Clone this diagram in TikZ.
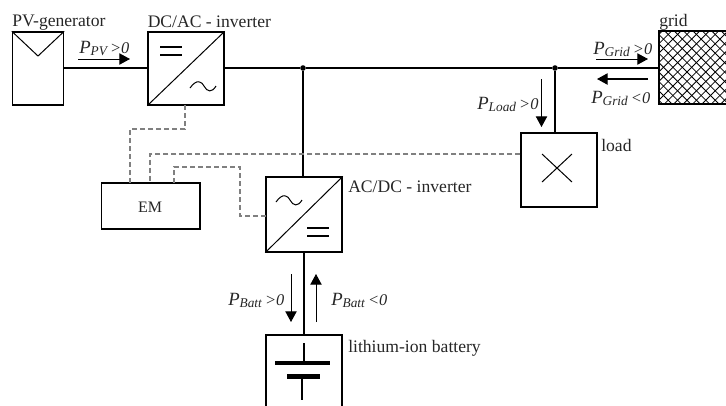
\documentclass[tikz,border=0pt]{standalone}
\usepackage{fontspec}
\setmainfont{Liberation Serif}
\usetikzlibrary{arrows.meta,calc}
\newcommand{\plab}[2]{\textit{\fontsize{14}{14}\selectfont P\raisebox{-2.2pt}{\fontsize{10}{10}\selectfont #1}\,{\fontsize{12.3}{14}\selectfont #2}}}
\newcommand{\tildeat}[2]{\draw[thin line] (#1,#2) .. controls (#1+7,#2-10) and (#1+12,#2-6) .. (#1+14,#2-2) .. controls (#1+17,#2+4) and (#1+22,#2+5) .. (#1+26,#2-2);}
\tikzset{
  x=0.75pt,y=-0.75pt,
  box/.style={draw=black,line width=1.1pt,fill=white,inner sep=0pt,minimum width=57pt},
  wire/.style={line width=1.1pt},
  thin line/.style={line width=0.75pt},
  ctrl/.style={draw=gray,line width=0.9pt,dash pattern=on 3.8pt off 2.2pt},
  flow/.style={line width=0.7pt,-{Triangle[length=8pt,width=8.5pt]}},
  dotj/.style={circle,fill=black,inner sep=0pt,minimum size=4.2pt},
  lbl/.style={inner sep=0pt,text=black!85,font=\fontsize{13.2}{15}\selectfont},
  plbl/.style={inner sep=0pt,text=black!85},
}
\begin{document}
\begin{tikzpicture}
\useasboundingbox (0,0) rectangle (726,405);
\clip (0,0) rectangle (726,405);
% boxes
\node[box,minimum width=38.2pt,minimum height=54.7pt] (pv) at (38,68.5) {};
\node[box,minimum height=54.7pt] (dcac) at (186,68.5) {};
\node[box,minimum width=73.8pt,minimum height=34.5pt] (em) at (150.7,206) {};
\node[box,minimum height=55.5pt] (load) at (559,170) {};
\node[box,minimum height=56pt] (acdc) at (304,214.5) {};
\node[box,minimum height=60pt] (batt) at (304,375) {};
\node[box,minimum width=60pt,minimum height=54.7pt] (grid) at (699,67.5) {};
\begin{scope}
\clip (grid.south west) rectangle (grid.north east);
\foreach \i in {-20,...,40} {
  \draw[line width=0.62pt] (640+\i*9.4,25) -- +(90,90);
  \draw[line width=0.62pt] (640+\i*9.4,25) -- +(-90,90);
}
\end{scope}
\draw[line width=1.1pt] (grid.south west) rectangle (grid.north east);
% junctions
\node[dotj] (j1) at (303,68) {};
\node[dotj] (j2) at (555,68) {};
% wires
\draw[wire] (pv.east |- 0,68) -- (dcac.west |- 0,68);
\draw[wire] (dcac.east |- 0,68) -- (j1) -- (j2) -- (grid.west |- 0,68);
\draw[wire] (j1) -- (j1 |- acdc.north);
\draw[wire] (j2) -- (j2 |- load.north);
\draw[wire] (acdc.south) -- (batt.north);
% control lines
\coordinate (c1) at (185,105);
\coordinate (c2) at (130,183);
\draw[ctrl] (c1) -- (185,129) -- (130,129) -- (c2);
\coordinate (c3) at (150,183);
\draw[ctrl] (load.west |- 0,154) -- (150,154) -- (c3);
\coordinate (c4) at (174,183);
\coordinate (c5) at (266,216);
\draw[ctrl] (c4) -- (174,167) -- (240,167) -- (240,216) -- (c5);
% symbols
\draw[thin line] (pv.north west) -- (38,56) -- (pv.north east);
\draw[thin line] (dcac.south west) -- (dcac.north east);
\draw[thin line] (acdc.south west) -- (acdc.north east);
\draw[wire,line width=1pt] (160,47) -- (182,47) (160,55) -- (182,55);
\tildeat{190}{88}
\tildeat{276}{202}
\draw[wire,line width=1pt] (307,228) -- (329,228) (307,236) -- (329,236);
\draw[thin line] (542,154) -- (572,182) (572,154) -- (542,182);
\draw[line width=0.9pt] (304,343) -- (304,363);
\draw[line width=2.7pt] (275,363) -- (330,363);
\draw[line width=3.8pt] (287,376.5) -- (320,376.5);
\draw[line width=0.9pt] (302,376) -- (302,400);
% flows
\coordinate (f1a) at (78,59); \coordinate (f1b) at (130,59);
\draw[flow] (f1a) -- (f1b);
\coordinate (f2a) at (596,59); \coordinate (f2b) at (648,59);
\draw[flow] (f2a) -- (f2b);
\coordinate (f3a) at (648,79); \coordinate (f3b) at (597,79);
\draw[flow,line width=1pt] (f3a) -- (f3b);
\coordinate (f4a) at (541.5,79); \coordinate (f4b) at (541.5,127);
\draw[flow] (f4a) -- (f4b);
\coordinate (f5a) at (291,274); \coordinate (f5b) at (291,322);
\draw[flow] (f5a) -- (f5b);
\coordinate (f6a) at (316,322); \coordinate (f6b) at (316,274);
\draw[flow] (f6a) -- (f6b);
% labels
\node[lbl,anchor=base west] (t1) at (12,26) {PV-generator};
\node[lbl,anchor=base west] (t2) at (147.5,27) {DC/AC - inverter};
\node[lbl,anchor=base west] (t3) at (659,26) {grid};
\node[lbl,anchor=base west] (t4) at (601,151) {load};
\node[lbl,anchor=base west] (t5) at (348,192) {AC/DC - inverter};
\node[lbl,anchor=base west] (t6) at (348,352) {lithium-ion battery};
\node[lbl,font=\fontsize{12}{13}\selectfont] (t7) at (150,207) {EM};
\node[plbl,anchor=base west] (p1) at (79,53) {\plab{PV}{>0}};
\node[plbl,anchor=base west] (p2) at (593,54) {\plab{Grid}{>0}};
\node[plbl,anchor=base west] (p3) at (591,103) {\plab{Grid}{<0}};
\node[plbl,anchor=base west] (p4) at (477,109) {\plab{Load}{>0}};
\node[plbl,anchor=base west] (p5) at (228,305) {\plab{Batt}{>0}};
\node[plbl,anchor=base west] (p6) at (331,305) {\plab{Batt}{<0}};
\end{tikzpicture}
\end{document}
